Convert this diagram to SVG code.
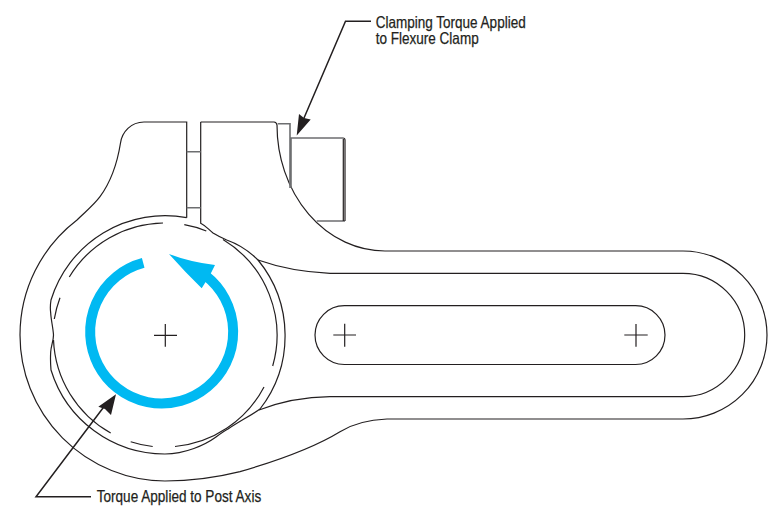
<svg xmlns="http://www.w3.org/2000/svg" width="780" height="520" viewBox="0 0 780 520">
<style>
.l{fill:none;stroke:#231f20;stroke-width:1.2}
.c{fill:none;stroke:#231f20;stroke-width:1.5}
.g{fill:none;stroke:#6d6e70;stroke-width:1.6}
.a{fill:#231f20}
.t{font-family:"Liberation Sans Narrow","Liberation Sans",sans-serif;font-size:16.5px;fill:#231f20;stroke:#231f20;stroke-width:.25}
</style>
<rect width="780" height="520" fill="#fff"/>
<g id="clamp-body">
<path class="l" d="M200.7 122H274Q276.5 122 277 125A108 126 0 0 0 385 251H683A84 84 0 0 1 683 419H387C370 419.7 354 423 340 431.7C320 444 290 457 240 471.7C215 478 190 481 165 481A146 146 0 0 1 20 335A145 145 0 0 1 77 220C85 212 93 206 100 196.7C110 183 117 165 120.5 143C122 132 131 122 144 122H186.7V217.7"/>
<path class="l" d="M186.7 217.7A119.3 119.3 0 0 0 51 300C50 306 50.3 310 50.7 313C51 320 53 327 53.5 335C53.5 341 51 346 50.7 352C50.3 358 50.5 364 51 370A119 119 0 0 0 165 454C185 454 205 445 216 437C220 434 224 431 228 429C240 421 250 416 260 409A119.5 119.5 0 0 0 258 260C250 252 238 244 226.7 240C222 238 218 236 213 233C208 229 206 226 200.7 223.3V122"/>
<path class="l" d="M258 260C275 266 300 272 330 273.3H683A61.7 61.7 0 0 1 683 396.7H330C305 397 280 402 259 410"/>
<path class="g" d="M186.7 151.7H200.7M186.7 207.7H200.7"/>
</g>
<g id="post-bore">
<path class="l" d="M69.3 277A112 112 0 0 1 163 223M184.3 224.7A112 112 0 0 1 206.3 231M223 239.5A112 112 0 0 1 272.7 366M264 387A112 112 0 0 1 175 446.5M152.7 446.5A112 112 0 0 1 130.7 441.7M110.7 433A112 112 0 0 1 53.5 340M54.3 319A112 112 0 0 1 60 297.7"/>
<path class="l" d="M154 335.3H177M165.3 324V346.7"/>
</g>
<g id="screw">
<path class="g" d="M277.7 123.7H290V188M291 188V138H343M345 221H316.7"/>
<path class="l" d="M343 138Q345 138 345 140V221M343.3 139V221"/>
</g>
<g id="slot">
<rect class="l" x="315" y="305.7" width="350" height="58.8" rx="29.4" ry="29.4"/>
<path class="l" d="M333.3 335H356M344.7 323.7V346.7M624.3 335H647.7M636 324V346.7"/>
</g>
<g id="torque-arrow">
<path d="M143.2 262.9A71.5 71.5 0 1 0 205.5 275.5" fill="none" stroke="#00b9f2" stroke-width="10"/>
<path d="M169 254Q190 262 215 265L210 275L201.7 288.3Q185 272 169 254Z" fill="#00b9f2"/>
</g>
<g id="connectors">
<path class="c" d="M371 21.3H345.5L301 125"/>
<path class="a" d="M296.7 135.5L299 114L304 118L310.7 119.5Z"/>
<path class="c" d="M91 496.7H36L106 404"/>
<path class="a" d="M116 394.3L111 415L105 409L98.3 406.7Z"/>
</g>
<g id="labels">
<text class="t" x="375.7" y="27.7" textLength="150" lengthAdjust="spacingAndGlyphs">Clamping Torque Applied</text>
<text class="t" x="375.7" y="44" textLength="103" lengthAdjust="spacingAndGlyphs">to Flexure Clamp</text>
<text class="t" x="96.7" y="501.7" textLength="164.5" lengthAdjust="spacingAndGlyphs">Torque Applied to Post Axis</text>
</g>
</svg>
